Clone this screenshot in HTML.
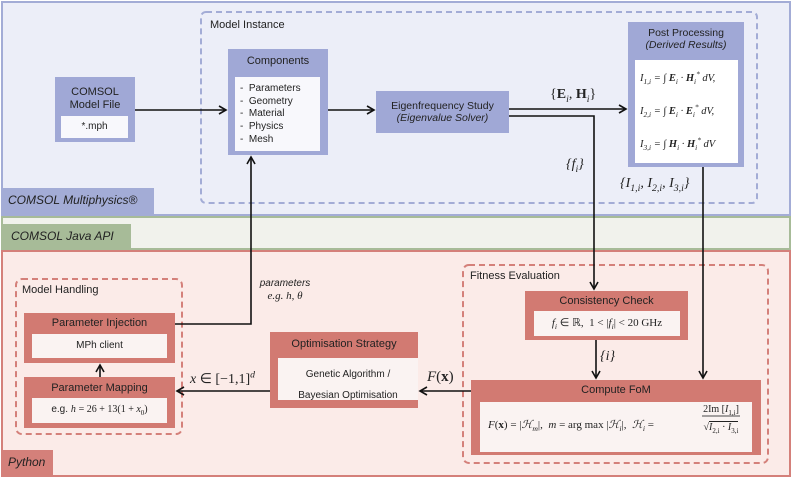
<!DOCTYPE html>
<html><head><meta charset="utf-8"><style>
body{margin:0;width:793px;height:479px;overflow:hidden;background:#fff;font-family:"Liberation Sans",sans-serif;}
.t{position:absolute;font-size:11px;color:#222;white-space:nowrap;line-height:1.15}
.c{text-align:center}
.m{font-family:"Liberation Serif",serif;font-style:italic}
.i{font-style:italic}
sub,sup{line-height:0;font-size:70%}
</style></head><body>
<svg width="793" height="479" style="position:absolute;left:0;top:0">
<defs><marker id="a" markerWidth="10" markerHeight="10" refX="8" refY="5" orient="auto" markerUnits="userSpaceOnUse"><path d="M1,1 L8,5 L1,9" fill="none" stroke="#111" stroke-width="1.6"/></marker></defs>
<rect x="2" y="2" width="788" height="213" fill="#eceef8" stroke="#a3acd6" stroke-width="2"/>
<rect x="2" y="188" width="152" height="27" fill="#a3acd6"/>
<rect x="2" y="217" width="788" height="32" fill="#f1f2ec" stroke="#a7bb98" stroke-width="2"/>
<rect x="2" y="224" width="129" height="25" fill="#a7bb98"/>
<rect x="2" y="251" width="788" height="225" fill="#fbebe8" stroke="#d4807a" stroke-width="2"/>
<rect x="2" y="450" width="51" height="26" fill="#d4807a"/>
<rect x="201" y="12" width="556" height="191" rx="5" fill="none" stroke="#a3acd6" stroke-width="2" stroke-dasharray="6,4"/>
<rect x="16" y="279" width="166" height="155" rx="6" fill="none" stroke="#d4807a" stroke-width="2" stroke-dasharray="6,4"/>
<rect x="463" y="265" width="305" height="198" rx="6" fill="none" stroke="#d4807a" stroke-width="2" stroke-dasharray="6,4"/>
<rect x="55" y="77" width="80" height="65" fill="#a0a8d6"/><rect x="61" y="116" width="67" height="22" fill="#f8f8fc"/>
<rect x="228" y="49" width="100" height="106" fill="#a0a8d6"/><rect x="235" y="77" width="85" height="74" fill="#f8f8fc"/>
<rect x="376" y="91" width="133" height="42" fill="#a0a8d6"/>
<rect x="628" y="22" width="116" height="145" fill="#a0a8d6"/><rect x="635" y="60" width="103" height="103" fill="#fff"/>
<rect x="24" y="313" width="151" height="50" fill="#d27a72"/><rect x="32" y="334" width="135" height="24" fill="#faf3f2"/>
<rect x="24" y="377" width="151" height="51" fill="#d27a72"/><rect x="32" y="398" width="135" height="25" fill="#faf3f2"/>
<rect x="270" y="332" width="148" height="76" fill="#d27a72"/><rect x="278" y="358" width="140" height="42" fill="#faf3f2"/>
<rect x="525" y="291" width="163" height="49" fill="#d27a72"/><rect x="534" y="311" width="146" height="25" fill="#faf3f2"/>
<rect x="471" y="380" width="290" height="75" fill="#d27a72"/><rect x="480" y="402" width="272" height="50" fill="#faf3f2"/>
<g stroke="#111" stroke-width="1.6" fill="none">
<path d="M135,110 H226" marker-end="url(#a)"/>
<path d="M328,110 H374" marker-end="url(#a)"/>
<path d="M509,109 H626" marker-end="url(#a)"/>
<path d="M509,116 H594 V289" marker-end="url(#a)"/>
<path d="M703,167 V378" marker-end="url(#a)"/>
<path d="M175,324 H251 V157" marker-end="url(#a)"/>
<path d="M100,377 V365" marker-end="url(#a)"/>
<path d="M270,391 H177" marker-end="url(#a)"/>
<path d="M471,391 H420" marker-end="url(#a)"/>
<path d="M596,340 V378" marker-end="url(#a)"/>
<path d="M702,416 H740" stroke-width="0.8"/>
</g>
</svg>
<div class="t i" style="left:8px;top:194px;font-size:12px">COMSOL Multiphysics®</div>
<div class="t i" style="left:11px;top:230px;font-size:12px">COMSOL Java API</div>
<div class="t i" style="left:8px;top:456px;font-size:12px">Python</div>
<div class="t" style="left:210px;top:19px">Model Instance</div>
<div class="t" style="left:22px;top:284px">Model Handling</div>
<div class="t" style="left:470px;top:270px">Fitness Evaluation</div>
<div class="t c" style="left:55px;top:86px;width:80px">COMSOL<br>Model File</div>
<div class="t c" style="left:61px;top:121px;width:67px;font-size:10px">*.mph</div>
<div class="t c" style="left:228px;top:55px;width:100px">Components</div>
<div class="t" style="left:240px;top:83px;font-size:10px;line-height:12.7px">-&nbsp; Parameters<br>-&nbsp; Geometry<br>-&nbsp; Material<br>-&nbsp; Physics<br>-&nbsp; Mesh</div>
<div class="t c" style="left:376px;top:100px;width:133px;font-size:10.5px">Eigenfrequency Study<br><i>(Eigenvalue Solver)</i></div>
<div class="t c" style="left:628px;top:27px;width:116px;font-size:10.5px">Post Processing<br><i>(Derived Results)</i></div>
<div class="t m" style="left:640px;top:73px;font-size:10.5px">I<sub>1,i</sub> = ∫ <b>E</b><sub>i</sub> · <b>H</b><sub>i</sub><sup>*</sup> dV,</div>
<div class="t m" style="left:640px;top:106px;font-size:10.5px">I<sub>2,i</sub> = ∫ <b>E</b><sub>i</sub> · <b>E</b><sub>i</sub><sup>*</sup> dV,</div>
<div class="t m" style="left:640px;top:139px;font-size:10.5px">I<sub>3,i</sub> = ∫ <b>H</b><sub>i</sub> · <b>H</b><sub>i</sub><sup>*</sup> dV</div>
<div class="t m" style="left:550px;top:87px;font-size:14px;font-style:normal">{<b>E</b><sub><i>i</i></sub>, <b>H</b><sub><i>i</i></sub>}</div>
<div class="t m" style="left:566px;top:157px;font-size:14px">{f<sub>i</sub>}</div>
<div class="t m" style="left:620px;top:176px;font-size:14px">{I<sub>1,i</sub>, I<sub>2,i</sub>, I<sub>3,i</sub>}</div>
<div class="t c" style="left:240px;top:278px;width:90px;font-size:10px"><i>parameters</i><br><span class="m" style="font-size:11px">e.g. h, θ</span></div>
<div class="t c" style="left:24px;top:317px;width:151px">Parameter Injection</div>
<div class="t c" style="left:32px;top:340px;width:135px;font-size:10px">MPh client</div>
<div class="t c" style="left:24px;top:382px;width:151px">Parameter Mapping</div>
<div class="t c" style="left:32px;top:404px;width:135px;font-size:10px">e.g. <span class="m">h</span> <span style="font-family:'Liberation Serif',serif">= 26 + 13(1 + <i>x</i><sub>0</sub>)</span></div>
<div class="t c" style="left:270px;top:338px;width:148px">Optimisation Strategy</div>
<div class="t c" style="left:278px;top:364px;width:140px;font-size:10px;line-height:21px">Genetic Algorithm /<br>Bayesian Optimisation</div>
<div class="t m" style="left:190px;top:372px;font-size:14px">x <span style="font-style:normal">∈ [−1,1]</span><sup>d</sup></div>
<div class="t m" style="left:427px;top:369px;font-size:15px">F<span style="font-style:normal">(<b>x</b>)</span></div>
<div class="t c" style="left:525px;top:295px;width:163px">Consistency Check</div>
<div class="t c m" style="left:534px;top:317px;width:146px;font-size:11px">f<sub>i</sub> <span style="font-style:normal">∈ ℝ,&nbsp; 1 &lt; |</span>f<sub>i</sub><span style="font-style:normal">| &lt; 20 GHz</span></div>
<div class="t m" style="left:600px;top:349px;font-size:14px">{i}</div>
<div class="t c" style="left:471px;top:384px;width:290px">Compute FoM</div>
<div class="t m" style="left:488px;top:419px;font-size:11px">F<span style="font-style:normal">(<b>x</b>) = |</span>ℋ<sub>m</sub><span style="font-style:normal">|,&nbsp;</span> m <span style="font-style:normal">= arg max |</span>ℋ<sub>i</sub><span style="font-style:normal">|,&nbsp;</span> ℋ<sub>i</sub> <span style="font-style:normal">=</span></div>
<div class="t c m" style="left:694px;top:404px;width:54px;font-size:10px;font-style:normal">2Im [<i>I</i><sub>1,i</sub>]</div>
<div class="t c m" style="left:694px;top:422px;width:54px;font-size:10px;font-style:normal">√<span style="border-top:1px solid #222"><i>I</i><sub>2,i</sub> · <i>I</i><sub>3,i</sub></span></div>
</body></html>
